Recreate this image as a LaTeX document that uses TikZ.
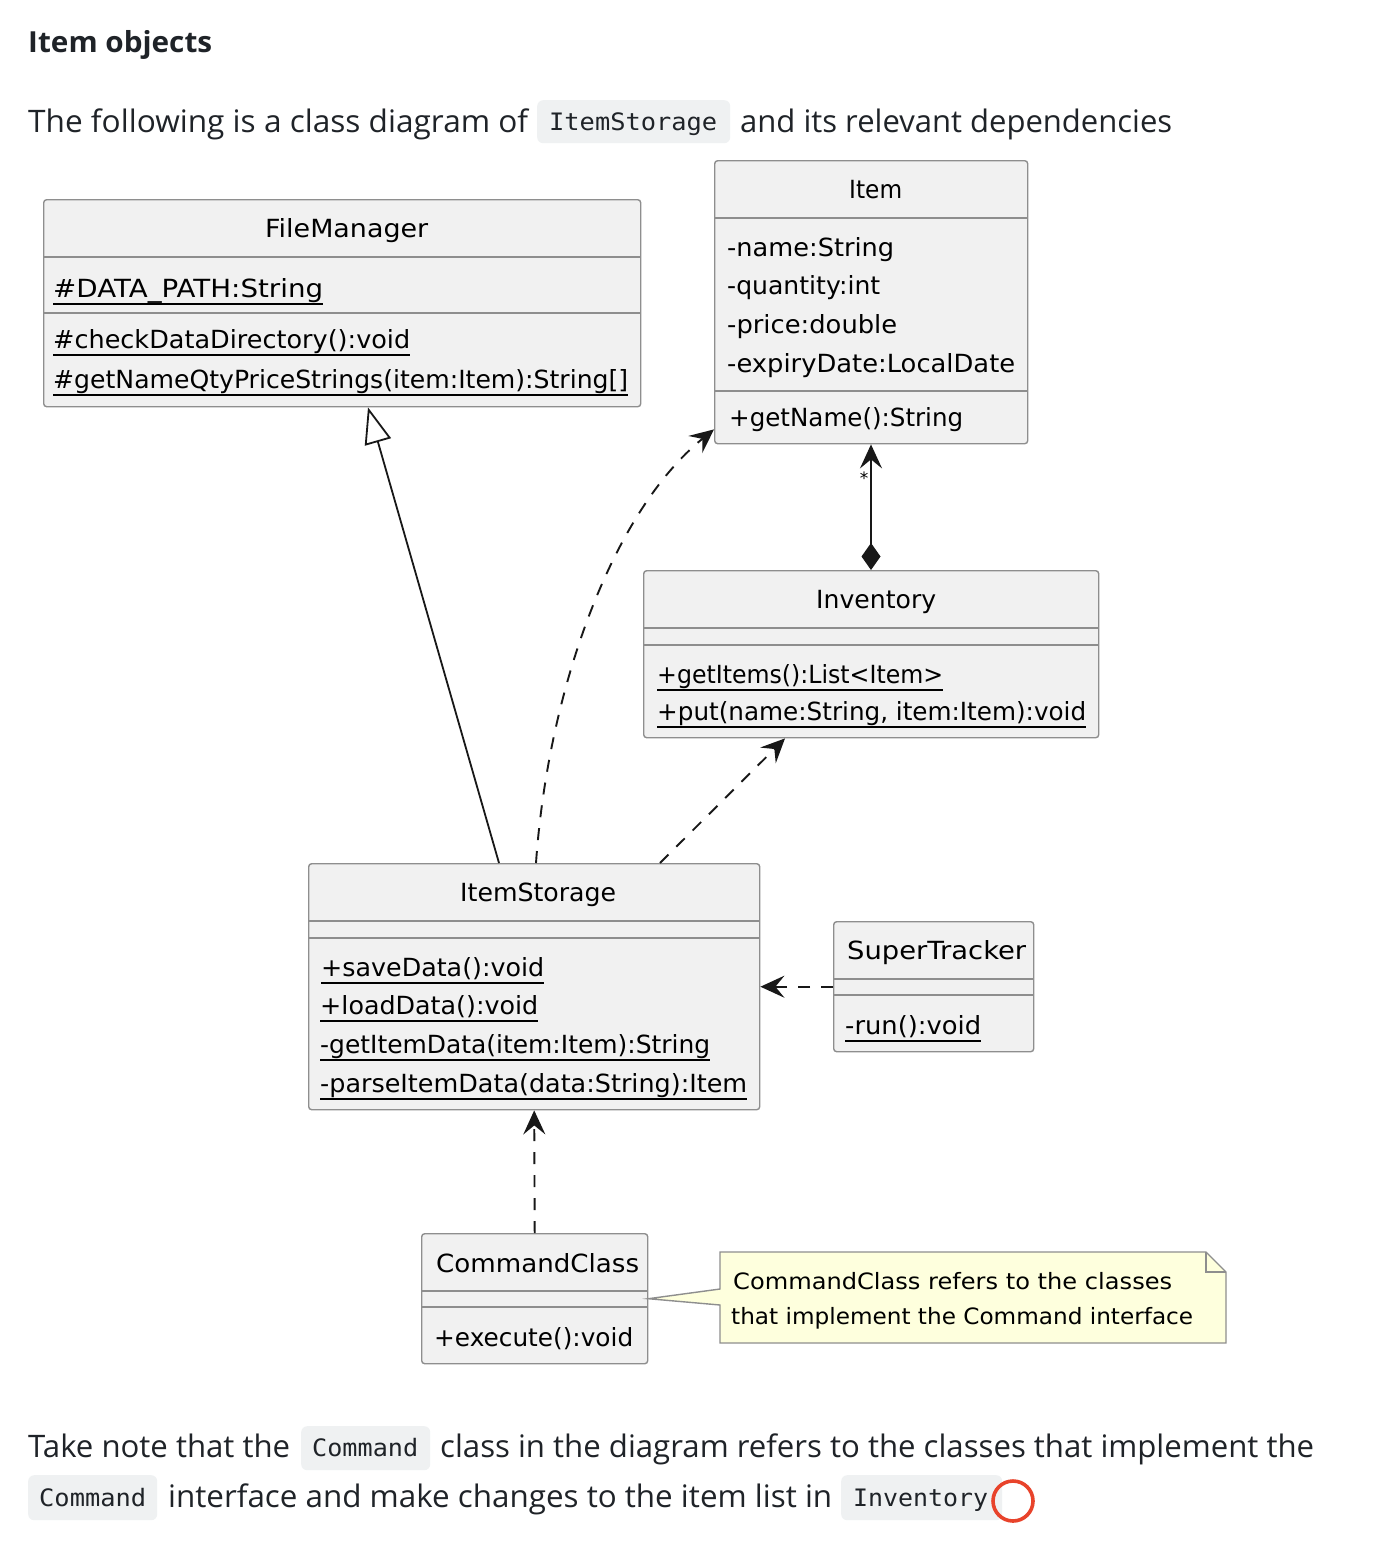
\documentclass[tikz,border=0pt]{standalone}
\usepackage{fontspec}
\usepackage{graphicx}
\setmainfont{Open Sans}
\newfontfamily\diaf{DejaVu Sans}
\newfontfamily\codef{DejaVu Sans Mono}
\usetikzlibrary{arrows.meta}
\definecolor{boxfill}{HTML}{F1F1F1}
\definecolor{boxline}{HTML}{8E8E8E}
\definecolor{arrowc}{HTML}{181818}
\definecolor{notefill}{HTML}{FEFFDD}
\definecolor{codebg}{HTML}{EFF1F2}
\definecolor{txt}{HTML}{1F2328}
\definecolor{circ}{HTML}{E8432B}
\newlength\fitlen
\newcommand\fitto[2]{\settowidth{\fitlen}{#2}\pgfmathsetmacro\fitr{#1/\fitlen}\scalebox{\fitr}[1]{#2}}
\newsavebox\ulb
\newcommand\ulx[1]{\sbox\ulb{#1}\rlap{\rule[-7.5pt]{\wd\ulb}{1.8pt}}\usebox\ulb}
\tikzset{
  cls/.style={rectangle, draw=boxline, fill=boxfill, rounded corners=3pt, line width=1.4pt, inner sep=0pt, anchor=north west},
  sepline/.style={draw=boxline, line width=1.4pt},
  mem/.style={font=\diaf\fontsize{25}{30}\selectfont, inner sep=0pt, anchor=base west, text=black},
  notetxt/.style={font=\diaf\fontsize{22.5}{27}\selectfont, inner sep=0pt, anchor=base west, text=black},
  body/.style={font=\fontsize{31}{38}\selectfont, inner sep=0pt, anchor=base west, text=txt},
  codetxt/.style={font=\codef\fontsize{24}{30}\selectfont, inner sep=0pt, anchor=base west, text=txt},
  codebox/.style={rectangle, fill=codebg, rounded corners=6pt, inner sep=0pt, anchor=north west},
  arrowhd/.style={-{Stealth[length=24pt,width=22pt,inset=9pt]}},
  dep/.style={draw=arrowc, line width=1.9pt, dash pattern=on 12pt off 11pt, arrowhd},
  inherit/.style={draw=arrowc, line width=1.8pt, -{Triangle[open, length=36pt, width=27pt, fill=white]}},
  compo/.style={draw=arrowc, line width=1.8pt, {Diamond[length=27pt,width=19pt]}-{Stealth[length=24pt,width=22pt,inset=9pt]}},
  notebox/.style={draw=boxline, fill=notefill, line width=1.4pt, line join=miter},
}
\begin{document}
\begin{tikzpicture}[x=1pt,y=-1pt]
\useasboundingbox (0,0) rectangle (1374,1560);
\fill[white] (0,0) rectangle (1374,1560);

% ---------- text above ----------
\node[body, font=\fontsize{29}{36}\selectfont\bfseries] (title) at (28,53) {\fitto{184}{Item objects}};
\node[body] (t1) at (28,132.5) {\fitto{500}{The following is a class diagram of}};
\node[codebox, minimum width=193pt, minimum height=43pt] (cb1) at (537,100) {};
\node[codetxt] (c1) at (549,131) {\fitto{168}{ItemStorage}};
\node[body] (t2) at (740,132.5) {\fitto{432}{and its relevant dependencies}};

% ---------- FileManager ----------
\node[cls, minimum width=597pt, minimum height=207pt] (fm) at (43,199) {};
\draw[sepline] ([yshift=-58pt]fm.north west) -- ([yshift=-58pt]fm.north east);
\draw[sepline] ([yshift=-114pt]fm.north west) -- ([yshift=-114pt]fm.north east);
\node[mem] (fmt) at (265,237) {\fitto{163}{FileManager}};
\node[mem] (fm1) at (53,297) {\fitto{270}{\ulx{\#DATA\_PATH:String}}};
\node[mem] (fm2) at (53,348) {\fitto{357}{\ulx{\#checkDataDirectory():void}}};
\node[mem] (fm3) at (53,388) {\fitto{575}{\ulx{\#getNameQtyPriceStrings(item:Item):String[]}}};

% ---------- Item ----------
\node[cls, minimum width=313pt, minimum height=283pt] (item) at (714,160) {};
\draw[sepline] ([yshift=-58pt]item.north west) -- ([yshift=-58pt]item.north east);
\draw[sepline] ([yshift=-231pt]item.north west) -- ([yshift=-231pt]item.north east);
\node[mem] (itt) at (849,198) {\fitto{53}{Item}};
\node[mem] (it1) at (727,256) {\fitto{167}{-name:String}};
\node[mem] (it2) at (727,294) {\fitto{153}{-quantity:int}};
\node[mem] (it3) at (727,333) {\fitto{170}{-price:double}};
\node[mem] (it4) at (727,372) {\fitto{288}{-expiryDate:LocalDate}};
\node[mem] (it5) at (729,426) {\fitto{234}{+getName():String}};

% ---------- Inventory ----------
\node[cls, minimum width=455pt, minimum height=167pt] (inv) at (643,570) {};
\draw[sepline] ([yshift=-58pt]inv.north west) -- ([yshift=-58pt]inv.north east);
\draw[sepline] ([yshift=-75pt]inv.north west) -- ([yshift=-75pt]inv.north east);
\node[mem] (invt) at (816,608) {\fitto{120}{Inventory}};
\node[mem] (inv1) at (657,683) {\fitto{286}{\ulx{+getItems():List<Item>}}};
\node[mem] (inv2) at (657,720) {\fitto{429}{\ulx{+put(name:String, item:Item):void}}};

% ---------- ItemStorage ----------
\node[cls, minimum width=451pt, minimum height=246pt] (is) at (308,863) {};
\draw[sepline] ([yshift=-58pt]is.north west) -- ([yshift=-58pt]is.north east);
\draw[sepline] ([yshift=-75pt]is.north west) -- ([yshift=-75pt]is.north east);
\node[mem] (ist) at (460,901) {\fitto{156}{ItemStorage}};
\node[mem] (is1) at (321,976) {\fitto{223}{\ulx{+saveData():void}}};
\node[mem] (is2) at (320,1014) {\fitto{218}{\ulx{+loadData():void}}};
\node[mem] (is3) at (320,1053) {\fitto{390}{\ulx{-getItemData(item:Item):String}}};
\node[mem] (is4) at (320,1092) {\fitto{427}{\ulx{-parseItemData(data:String):Item}}};

% ---------- SuperTracker ----------
\node[cls, minimum width=200pt, minimum height=130pt] (st) at (833,921) {};
\draw[sepline] ([yshift=-58pt]st.north west) -- ([yshift=-58pt]st.north east);
\draw[sepline] ([yshift=-74pt]st.north west) -- ([yshift=-74pt]st.north east);
\node[mem] (stt) at (847,959) {\fitto{179}{SuperTracker}};
\node[mem] (st1) at (845,1034) {\fitto{136}{\ulx{-run():void}}};

% ---------- CommandClass ----------
\node[cls, minimum width=226pt, minimum height=130pt] (cc) at (421,1233) {};
\draw[sepline] ([yshift=-58pt]cc.north west) -- ([yshift=-58pt]cc.north east);
\draw[sepline] ([yshift=-74pt]cc.north west) -- ([yshift=-74pt]cc.north east);
\node[mem] (cct) at (436,1272) {\fitto{203}{CommandClass}};
\node[mem] (cc1) at (434,1346) {\fitto{199}{+execute():void}};

% ---------- note ----------
\draw[notebox] (720,1252) -- (1206,1252) -- (1226,1272) -- (1226,1343) -- (720,1343) -- (720,1305) -- (cc.east) -- (720,1289) -- cycle;
\draw[notebox, fill=none] (1206,1252) -- (1206,1272) -- (1226,1272);
\node[notetxt] (n1) at (733,1289) {\fitto{439}{CommandClass refers to the classes}};
\node[notetxt] (n2) at (731,1324) {\fitto{462}{that implement the Command interface}};

% ---------- connectors ----------
\draw[inherit] ([xshift=191pt]is.north west) -- ([xshift=325pt]fm.south west);
\draw[dep] ([xshift=228pt]is.north west) .. controls (548,690) and (612,512) .. ([yshift=15pt]item.south west);
\draw[dep] ([xshift=352pt]is.north west) -- ([xshift=142pt]inv.south west);
\draw[compo] ([xshift=228pt]inv.north west) -- ([xshift=157pt]item.south west);
\node[font=\diaf\fontsize{17}{20}\selectfont, inner sep=0pt] (star) at (864,478) {*};
\draw[dep] (st.west) -- (is.east);
\draw[dep] (cc.north) -- (is.south);

% ---------- text below ----------
\node[body] (b1) at (28,1457) {\fitto{262}{Take note that the}};
\node[codebox, minimum width=129pt, minimum height=44pt] (cb2) at (301,1426) {};
\node[codetxt] (c2) at (312,1456.5) {\fitto{106}{Command}};
\node[body] (b2) at (440,1457) {\fitto{874}{class in the diagram refers to the classes that implement the}};
\node[codebox, minimum width=129pt, minimum height=45pt] (cb3) at (28,1475) {};
\node[codetxt] (c3) at (39,1506.5) {\fitto{107}{Command}};
\node[body] (b3) at (168,1507) {\fitto{664}{interface and make changes to the item list in}};
\node[codebox, minimum width=161pt, minimum height=45pt] (cb4) at (841,1475) {};
\node[codetxt] (c4) at (853,1506.5) {\fitto{135}{Inventory}};
\node[draw=circ, line width=3.6pt, circle, minimum size=40pt, inner sep=0pt] (mark) at (1013,1501) {};
\end{tikzpicture}
\end{document}
